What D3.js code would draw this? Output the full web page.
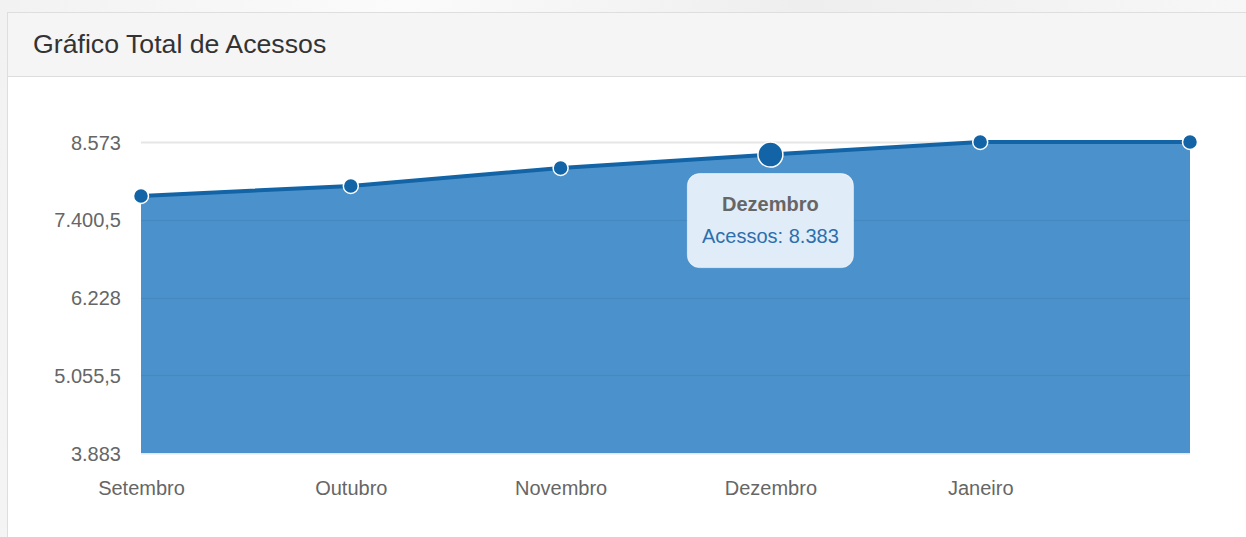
<!DOCTYPE html>
<html>
<head>
<meta charset="utf-8">
<script src="https://cdn.jsdelivr.net/npm/d3@7"></script>
<style>
  html, body { margin: 0; padding: 0; }
  body {
    width: 1246px; height: 537px; overflow: hidden;
    background: linear-gradient(100deg, #f2f2f2 0%, #fbfbfb 30%, #eeeeee 60%, #f9f9f9 100%);
    font-family: "Liberation Sans", Arial, sans-serif;
  }
  svg { display: block; }
</style>
</head>
<body>
<script>
// Chart data
let months = ["Setembro", "Outubro", "Novembro", "Dezembro", "Janeiro", ""];
let acessos = [7759, 7909, 8181, 8383, 8573, 8573];
let yTicks = [3883, 5055.5, 6228, 7400.5, 8573];
let highlighted = 3;

let W = 1246, H = 537;
let svg = d3.select("body").append("svg")
  .attr("width", W)
  .attr("height", H);

// Panel + header
svg.append("rect")
  .attr("x", 7.5).attr("y", 12.5)
  .attr("width", W).attr("height", H)
  .attr("fill", "#fff")
  .attr("stroke", "#dedede");
svg.append("rect")
  .attr("x", 8).attr("y", 13)
  .attr("width", W).attr("height", 63)
  .attr("fill", "#f5f5f5");
svg.append("line")
  .attr("x1", 8).attr("x2", W)
  .attr("y1", 76.5).attr("y2", 76.5)
  .attr("stroke", "#dddddd");
svg.append("text")
  .attr("x", 33).attr("y", 53)
  .attr("fill", "#333")
  .style("font-size", "26.7px")
  .text("Gráfico Total de Acessos");

// Scales
let x = d3.scalePoint()
  .domain(d3.range(months.length))
  .range([141, 1190]);
let y = d3.scaleLinear()
  .domain([3883, 8573])
  .range([453, 142]);

let fmt = d3.formatLocale({ decimal: ",", thousands: ".", grouping: [3], currency: ["R$", ""] });
let tickFmt = (d) => Number.isInteger(d) ? fmt.format(",d")(d) : fmt.format(",.1f")(d);

// Top gridline (behind area)
svg.append("g")
  .selectAll("line")
  .data(yTicks)
  .enter().append("line")
    .attr("x1", x(0)).attr("x2", x(months.length - 1))
    .attr("y1", (d) => Math.round(y(d)) + 0.5)
    .attr("y2", (d) => Math.round(y(d)) + 0.5)
    .attr("stroke", "#e6e6e6")
    .attr("stroke-width", 2);

// Area
let area = d3.area()
  .x((d, i) => x(i))
  .y0(y(3883))
  .y1((d) => y(d));
svg.append("path")
  .datum(acessos)
  .attr("d", area)
  .attr("fill", "#4b92cc");

// Gridlines visible over the area
svg.append("g")
  .selectAll("line")
  .data(yTicks.slice(1, -1))
  .enter().append("line")
    .attr("x1", x(0)).attr("x2", x(months.length - 1))
    .attr("y1", (d) => Math.round(y(d)) + 0.5)
    .attr("y2", (d) => Math.round(y(d)) + 0.5)
    .attr("stroke", "rgba(0,0,0,0.06)")
    .attr("stroke-width", 1.5);

// Line
let line = d3.line()
  .x((d, i) => x(i))
  .y((d) => y(d));
svg.append("path")
  .datum(acessos)
  .attr("d", line)
  .attr("fill", "none")
  .attr("stroke", "#1264a6")
  .attr("stroke-width", 4);

// Points
svg.append("g")
  .selectAll("circle")
  .data(acessos)
  .enter().append("circle")
    .attr("cx", (d, i) => x(i))
    .attr("cy", (d) => y(d))
    .attr("r", (d, i) => i === highlighted ? 12.5 : 7.5)
    .attr("fill", "#1264a6")
    .attr("stroke", "#fff")
    .attr("stroke-width", 1.5);

// Y axis labels
let yAxis = svg.append("g")
  .attr("transform", "translate(121,0)")
  .call(d3.axisLeft(y).tickValues(yTicks).tickFormat(tickFmt).tickSize(0).tickPadding(0));
yAxis.select(".domain").remove();
yAxis.selectAll("text")
  .attr("fill", "#666")
  .attr("dy", "0.35em")
  .style("font-size", "20px")
  .style("font-family", "Liberation Sans, Arial, sans-serif");

// X axis labels
let xAxis = svg.append("g")
  .attr("transform", "translate(0,495)")
  .call(d3.axisBottom(x).tickFormat((i) => months[i]).tickSize(0).tickPadding(0));
xAxis.select(".domain").remove();
xAxis.selectAll("text")
  .attr("fill", "#666")
  .attr("y", 0)
  .attr("dy", 0)
  .style("font-size", "20px")
  .style("font-family", "Liberation Sans, Arial, sans-serif");

// Tooltip
let tx = x(highlighted), ty = y(acessos[highlighted]);
let tip = svg.append("g")
  .attr("transform", "translate(" + tx + "," + (ty + 19) + ")");
tip.append("rect")
  .attr("x", -83).attr("y", 0)
  .attr("width", 166).attr("height", 94)
  .attr("rx", 12)
  .attr("fill", "rgba(236,243,250,0.93)")
  .attr("stroke", "rgba(255,255,255,0.6)");
tip.append("text")
  .attr("x", 0).attr("y", 37.5)
  .attr("text-anchor", "middle")
  .attr("fill", "#666")
  .style("font-size", "20px")
  .style("font-weight", "bold")
  .text(months[highlighted]);
tip.append("text")
  .attr("x", 0).attr("y", 69.5)
  .attr("text-anchor", "middle")
  .attr("fill", "#2d6fad")
  .style("font-size", "20px")
  .text("Acessos: " + fmt.format(",d")(acessos[highlighted]));
</script>
</body>
</html>
